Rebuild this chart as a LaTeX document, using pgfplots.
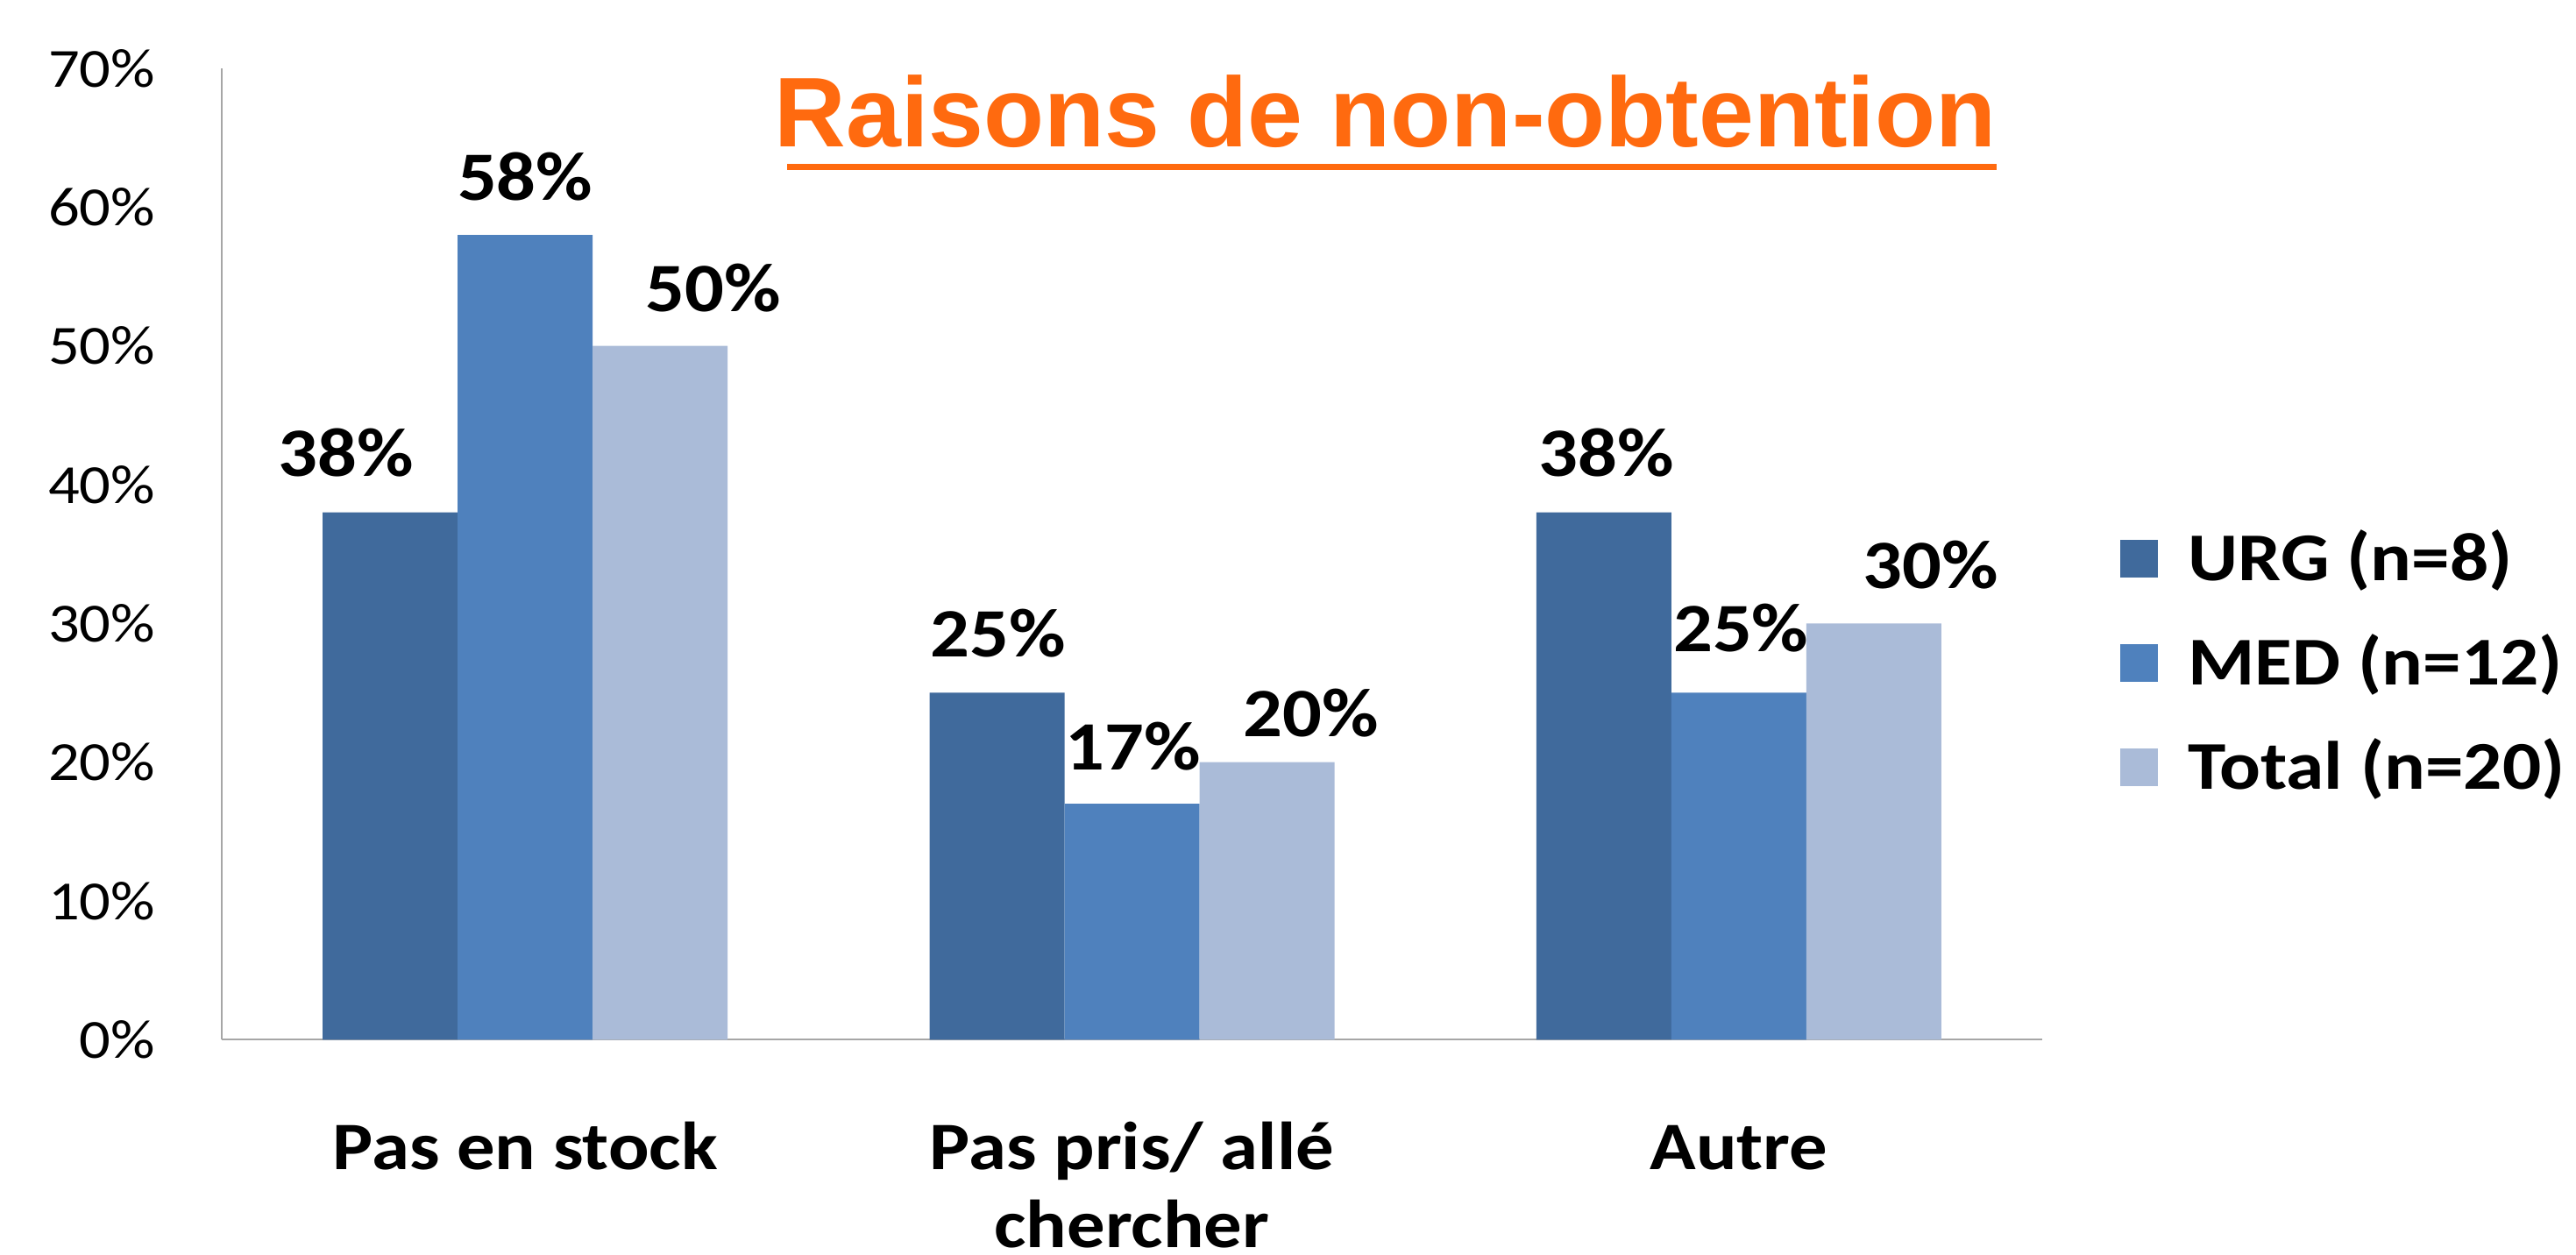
\documentclass[border=0pt]{standalone}
\usepackage{fontspec}
\setmainfont{Carlito}[FakeStretch=1.12]
\newfontfamily\titlefont{Liberation Sans}
\usepackage{pgfplots}
\usepackage{pgfplotstable}
\pgfplotsset{compat=1.18}
\definecolor{urg}{HTML}{406A9C}
\definecolor{med}{HTML}{4F81BD}
\definecolor{tot}{HTML}{AABBD8}
\definecolor{ttl}{HTML}{FF6A0F}
\definecolor{axgray}{HTML}{A6A6A6}
% x y dx dy  (dx, dy: label offsets in pt)
\pgfplotstableread{
x y dx dy
0 38 -10.1 0.4
1 25 0.3 0.2
2 38 0.6 0.4
}\urgdata
\pgfplotstableread{
x y dx dy
0 58 0 0
1 17 0.3 -0.2
2 25 0.5 1.5
}\meddata
\pgfplotstableread{
x y dx dy
0 50 12.1 0
1 20 10.1 -2.1
2 30 13.0 0
}\totdata
\begin{document}
\begin{tikzpicture}
\begin{axis}[
  at={(50.6pt,48.94pt)}, anchor=south west,
  scale only axis, width=415.4pt, height=221.66pt,
  ybar=0pt, bar width=30.8pt,
  xmin=-0.5, xmax=2.5, ymin=0, ymax=70,
  axis x line*=bottom, axis y line*=left,
  axis line style={draw=axgray, line width=0.45pt},
  major tick length=0pt,
  xtick={0,1,2},
  xticklabels={Pas en stock, {Pas pris/ allé\\chercher}, Autre},
  typeset ticklabels with strut,
  ytick={0,10,...,70},
  yticklabel={\pgfmathprintnumber{\tick}\%},
  /pgf/number format/assume math mode=true,
  xticklabel style={font=\bfseries\fontsize{15.5}{17.8}\selectfont, align=center, anchor=north, inner sep=0pt, yshift=-17pt},
  yticklabel style={font=\fontsize{12.6}{15}\selectfont, inner sep=0pt, anchor=east, xshift=-15pt},
  visualization depends on={\thisrow{dx} \as \labdx},
  visualization depends on={\thisrow{dy} \as \labdy},
  nodes near coords={\pgfmathprintnumber[fixed,precision=0]{\pgfplotspointmeta}\%},
  nodes near coords style={font=\bfseries\fontsize{15.8}{19}\selectfont, inner sep=0pt, anchor=south, xshift=\labdx pt, yshift=7.6pt+\labdy pt},
  legend cell align=left,
  legend image code/.code={\fill[#1] (0pt,-4.3pt) rectangle (8.6pt,4.3pt); \path (15.5pt,0pt);},
  legend style={draw=none, fill=none, at={(1.0424,0.3874)}, anchor=west,
    inner sep=0pt, row sep=13.6pt,
    font=\bfseries\fontsize{15.6}{18}\selectfont,
    nodes={inner sep=0pt, text height=10pt, text depth=0.2pt, anchor=west}},
]
\addplot[fill=urg, draw=none] table[x=x, y=y] {\urgdata};
\addplot[fill=med, draw=none] table[x=x, y=y] {\meddata};
\addplot[fill=tot, draw=none] table[x=x, y=y] {\totdata};
\legend{URG (n=8), MED (n=12), Total (n=20)}
\end{axis}
\node[font=\titlefont\bfseries\fontsize{22.6}{27}\selectfont, text=ttl, anchor=base, inner sep=0pt] at (316.1pt,252.6pt) {Raisons de non-obtention};
\fill[ttl] (179.6pt,247.4pt) rectangle (455.6pt,248.8pt);
\pgfresetboundingbox
\path (0,0) rectangle (587.8pt,286.2pt);
\end{tikzpicture}
\end{document}
